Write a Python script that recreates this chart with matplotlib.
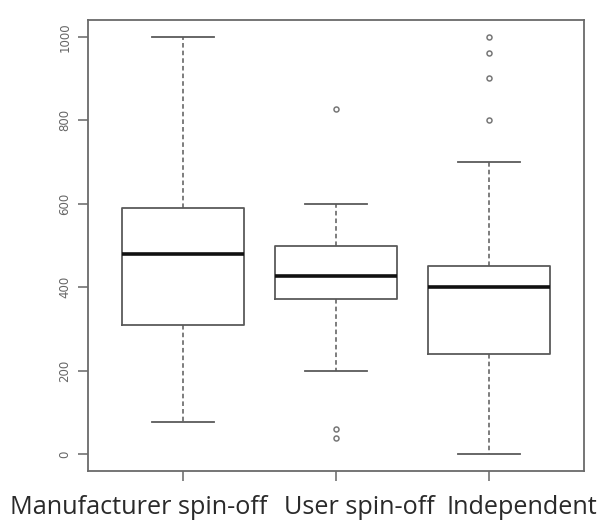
import matplotlib
matplotlib.use("Agg")
import matplotlib.pyplot as plt

categories = ["Manufacturer spin-off", "User spin-off", "Independent"]
whislo = [78, 200, 0]
q1 = [310, 372, 240]
med = [479, 428, 400]
q3 = [590, 500, 450]
whishi = [1000, 600, 700]
fliers = [[], [827, 60, 40], [1000, 960, 900, 800]]
yticks = [0, 200, 400, 600, 800, 1000]
label_centers_px = [139, 359.5, 521.5]

W, H = 607, 522
fig = plt.figure(figsize=(W / 100, H / 100), dpi=100)
ax = fig.add_axes([88 / W, (H - 471) / H, (584 - 88) / W, (471 - 20) / H])

stats = []
for i in range(3):
    stats.append(dict(whislo=whislo[i], q1=q1[i], med=med[i], q3=q3[i],
                      whishi=whishi[i], fliers=fliers[i], label=""))

gray = "#5a5a5a"
ax.bxp(stats, positions=[1, 2, 3], widths=0.8, showfliers=True,
       boxprops=dict(color=gray, linewidth=1.3),
       medianprops=dict(color="#111111", linewidth=2.6, solid_capstyle="butt"),
       whiskerprops=dict(color=gray, linewidth=1.1, linestyle=(0, (3, 2))),
       capprops=dict(color=gray, linewidth=1.3),
       capwidths=0.4,
       flierprops=dict(marker="o", markersize=3.6, markerfacecolor="none",
                       markeredgecolor="#777777", markeredgewidth=1.1))

ax.set_xlim(0.38, 3.62)
ax.set_ylim(-40, 1040)
ax.set_yticks(yticks)
ax.set_yticklabels([str(v) for v in yticks], rotation=90, va="center",
                   fontsize=8.5, color="#666666")
ax.set_xticks([1, 2, 3])
ax.set_xticklabels(["", "", ""])
ax.tick_params(axis="both", length=7, width=1.1, color="#666666", pad=5)
for s in ax.spines.values():
    s.set_color("#6a6a6a")
    s.set_linewidth(1.3)

for name, cx in zip(categories, label_centers_px):
    fig.text(cx / W, (H - 514) / H, name, ha="center", va="baseline",
             fontsize=18.2, family="Open Sans", color="#2a2a2a")

fig.savefig("out.png", dpi=100)
